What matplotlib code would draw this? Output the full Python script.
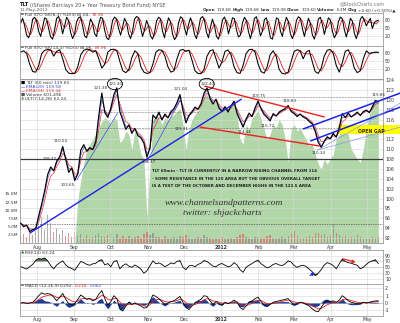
import numpy as np
import pandas as pd
import matplotlib
matplotlib.use("Agg")
import matplotlib.pyplot as plt
import matplotlib.dates as mdates
from matplotlib.patches import Ellipse, Rectangle

# ---------------- data ----------------
first_bar = "2011-07-18 10:00"
last_bar = "2012-05-10 15:00"

price = [95.0, 94.3, 94.6, 93.3, 93.7, 93.9, 96.5, 98.9, 101.6, 104.9,
         106.4, 105.6, 107.6, 108.47, 110.54, 107.9, 105.3, 106.2, 103.65, 105.0,
         109.8, 110.9, 109.6, 110.3, 109.9, 111.6, 116.8, 121.38, 117.4, 116.4,
         118.3, 121.0, 122.40, 117.6, 115.8, 114.0, 114.9, 113.2, 114.2, 112.7,
         112.3, 111.2, 108.37, 110.2, 116.9, 116.2, 117.5, 115.9, 117.1, 116.3,
         117.6, 118.2, 119.4, 121.04, 117.8, 115.31, 116.8, 117.6, 118.5, 118.1,
         119.2, 121.3, 122.40, 120.2, 119.1, 120.1, 118.3, 117.6, 118.6, 117.5,
         118.8, 119.7, 117.2, 115.8, 114.44, 116.1, 117.3, 116.6, 118.4, 119.75,
         118.1, 117.0, 116.4, 115.72, 117.2, 116.7, 117.5, 117.9, 118.2, 118.83,
         117.6, 117.2, 116.6, 117.1, 116.5, 116.2, 115.6, 115.1, 113.6, 111.4,
         110.34, 111.6, 112.5, 112.1, 113.2, 112.4, 114.4, 117.2, 116.4, 117.3,
         116.5, 117.0, 117.5, 116.8, 117.6, 117.9, 117.4, 118.6, 119.86, 119.60]

volume_m = [2.0, 2.6, 1.8, 3.1, 2.4, 3.6, 5.2, 7.8, 4.1, 8.6,
            6.2, 3.4, 4.6, 2.8, 3.9, 2.2, 2.9, 1.9, 3.3, 2.1,
            2.7, 1.6, 2.3, 1.4, 1.9, 2.5, 3.0, 2.2, 1.7, 2.4,
            3.2, 1.8, 2.6, 1.5, 2.0, 1.6, 2.2, 1.4, 1.8, 2.1,
            1.5, 2.7, 3.4, 2.3, 2.9, 1.7, 1.9, 1.3, 2.1, 1.6,
            1.4, 1.8, 1.5, 2.0, 1.7, 2.4, 1.6, 1.3, 1.5, 1.9,
            1.4, 2.3, 1.8, 1.6, 1.2, 1.5, 1.3, 1.7, 1.1, 1.4,
            1.6, 1.2, 1.9, 2.4, 2.8, 1.8, 1.5, 1.3, 1.7, 1.9,
            1.4, 1.6, 2.0, 2.3, 1.5, 1.2, 1.4, 1.7, 1.5, 2.1,
            2.6, 3.8, 2.0, 1.6, 1.4, 1.8, 2.2, 1.9, 2.9, 3.1,
            2.4, 2.8, 1.9, 2.2, 5.8, 3.0, 2.4, 1.8, 2.1, 1.6,
            1.9, 1.5, 2.4, 1.7, 1.3, 1.6, 1.4, 1.9, 1.5, 1.7]

ult = [0, 0, 0, 0, 0, 0, 0, 0, 0, 0,
       0, 0, 0, 0, 0, 0, 0, 0, 0, 26,
       38, 48, 57, 60, 63, 66, 70, 74, 76, 75,
       72, 76, 75, 61, 63, 68, 66, 57, 68, 63,
       54, 51, 16, 45, 75, 78, 76, 72, 76, 75,
       77, 78, 80, 82, 72, 57, 69, 75, 78, 81,
       84, 88, 90, 87, 84, 87, 82, 81, 84, 80,
       84, 87, 78, 63, 60, 72, 69, 76, 78, 81,
       75, 69, 63, 66, 72, 70, 75, 72, 63, 49,
       69, 72, 68, 70, 66, 63, 59, 60, 54, 48,
       45, 51, 48, 51, 54, 63, 66, 69, 72, 66,
       57, 54, 51, 49, 57, 69, 78, 84, 87, 87]

sto_fast_k = [70, 88, 60, 25, 15, 40, 85, 92, 78, 40, 20, 55, 90, 85, 50,
              18, 10, 45, 88, 95, 70, 30, 60, 92, 80, 35, 12, 30, 75, 90,
              94, 60, 22, 15, 50, 86, 70, 30, 20, 65, 92, 88, 45, 15, 8,
              35, 80, 93, 85, 50, 25, 55, 88, 72, 30, 12, 40, 85, 95, 90,
              55, 20, 45, 80, 60, 22, 10, 35, 78, 92, 86, 40, 15, 60, 90,
              75, 30, 8, 20, 70, 94, 88, 52, 25, 65, 90, 68, 28, 12, 48,
              88, 95, 80, 35, 15, 55, 85, 60, 20, 10, 40, 82, 93, 70, 30,
              58, 90, 86, 45, 18, 25, 70, 92, 80, 38, 12, 45, 88, 94, 62,
              22, 40, 84, 90, 55, 15, 10, 50, 90, 85, 40, 20, 65, 92, 75,
              30, 12, 35, 80, 94, 88, 50, 20, 55, 88, 70, 25, 10, 42, 85,
              92, 65, 28, 60, 90, 82, 40, 15, 30, 75, 93, 86, 45, 18, 50,
              88, 78, 32, 12, 40, 85, 95, 80, 60, 75, 88, 50, 72.0, 77.66, 81.04]

sto_slow_k = [85, 90, 80, 40, 12, 10, 35, 80, 92, 95,
              93, 70, 88, 94, 60, 20, 6, 4, 5, 30,
              75, 92, 96, 94, 85, 90, 60, 25, 40, 85,
              95, 96, 90, 50, 15, 8, 20, 65, 90, 80,
              30, 10, 5, 8, 40, 85, 94, 92, 70, 30,
              10, 15, 60, 92, 95, 88, 92, 55, 15, 5,
              4, 20, 70, 90, 94, 60, 25, 50, 88, 93,
              75, 30, 8, 5, 35, 80, 94, 96, 85, 40,
              12, 6, 30, 75, 90, 70, 20, 5, 3, 10,
              50, 88, 94, 90, 60, 85, 92, 50, 12, 5,
              25, 70, 92, 95, 80, 35, 10, 45, 88, 94,
              70, 25, 8, 15, 60, 90, 80, 82.5, 85.32, 84.06]

rsi = [53, 48, 44, 52, 60, 74, 80, 78, 82, 72,
       56, 45, 58, 66, 72, 58, 50, 46, 40, 55,
       70, 66, 60, 57, 62, 64, 72, 76, 58, 63,
       52, 70, 73, 45, 56, 62, 54, 50, 58, 52,
       44, 30, 38, 55, 72, 62, 65, 60, 52, 58,
       65, 62, 70, 73, 50, 42, 55, 57, 52, 60,
       64, 73, 70, 62, 54, 52, 60, 63, 57, 52,
       55, 66, 58, 42, 33, 50, 57, 63, 70, 74,
       62, 55, 48, 52, 60, 63, 58, 56, 62, 72,
       68, 56, 50, 55, 57, 53, 44, 35, 22, 30,
       42, 58, 66, 62, 56, 45, 62, 78, 70, 66,
       64, 60, 57, 45, 50, 60, 68, 72, 76, 63.24]

macd = [0.0, 0.05, -0.05, 0.0, 0.1, 0.5, 1.0, 1.4, 1.2, 1.3,
        1.2, 0.8, 0.3, 0.8, 1.3, 0.5, -0.1, -0.2, -0.1, 0.5,
        1.1, 0.8, 0.5, 0.6, 0.3, 0.5, 1.2, 1.7, 0.6, -0.3,
        0.2, 1.0, 0.6, -0.8, -1.1, -0.4, 0.1, -0.2, 0.0, -0.2,
        -0.4, -0.7, -0.6, 0.2, 1.1, 0.9, 0.6, 0.2, -0.2, 0.0,
        0.2, 0.3, 0.6, 0.9, 0.1, -0.6, -0.9, -0.4, 0.0, 0.3,
        0.5, 1.0, 0.9, 0.3, -0.2, 0.2, -0.1, -0.3, 0.1, -0.1,
        0.1, 0.4, 0.1, -0.6, -0.9, -0.4, 0.1, 0.3, 0.6, 0.8,
        0.2, -0.3, -0.5, -0.2, 0.1, 0.2, 0.3, 0.4, 0.5, 0.6,
        0.1, -0.2, -0.1, 0.1, 0.0, -0.2, -0.4, -0.8, -1.1, -1.2,
        -0.6, 0.0, 0.3, 0.2, 0.3, 0.1, 0.4, 1.0, 0.7, 0.3,
        0.1, 0.0, -0.1, -0.1, 0.1, 0.0, 0.1, 0.22, 0.28, 0.292]

month_starts = ["2011-08-01", "2011-09-01", "2011-10-01", "2011-11-01", "2011-12-01",
                "2012-01-01", "2012-02-01", "2012-03-01", "2012-04-01", "2012-05-01"]
month_labels = ["Aug", "Sep", "Oct", "Nov", "Dec", "2012", "Feb", "Mar", "Apr", "May"]

# labelled turning points: (bar index, dx px, dy px)
point_labels = [(13, -10, -2), (14, -2, 5.5), (18, -7, -4.5), (27, -1, 5), (32, -1, 4),
                (42, 2, -5), (53, 1, 6), (55, -4, -6), (62, 1, 4), (74, 1, -5),
                (79, 1, 4.5), (83, -2, -5), (89, 1, 4.5), (100, -3, -6), (118, 3, 5)]

# hand-drawn study lines: (start date, start price, end date, end price, colour, width)
trend_lines = [
    ("2011-07-26", 93.0, "2012-01-18", 120.15, "#1b22e6", 1.0),
    ("2011-09-03", 103.75, "2011-10-07", 117.3, "#3b4cf0", 0.5),
    ("2011-10-31", 107.4, "2011-11-29", 120.35, "#3b4cf0", 0.5),
    ("2011-12-18", 122.78, "2012-03-27", 116.5, "#ee1f1f", 1.0),
    ("2011-12-14", 114.48, "2012-03-23", 110.63, "#ee1f1f", 1.0),
    ("2012-03-09", 114.07, "2012-05-29", 121.36, "#1b22e6", 1.1),
    ("2012-03-15", 111.64, "2012-05-29", 118.53, "#1b22e6", 1.1),
    ("2012-03-21", 109.8, "2012-05-29", 119.34, "#8a98ee", 0.5),
    ("2012-03-21", 109.8, "2012-05-29", 114.48, "#8a98ee", 0.5),
]
dotted_levels = [(120.65, "2011-09-22", "2012-05-14"),
                 (117.5, "2011-09-22", "2011-12-14"),
                 (114.3, "2011-09-22", "2012-04-09")]
support_level = 108.0
volume_guide = 94.84
gap_zone = ("2012-04-07", "2012-05-29", 113.15, 114.9)
circled = [("2011-10-04 18:00", 123.18), ("2011-12-20", 123.18)]

# ---------------- layout helpers ----------------
W, H = 400, 323
fig = plt.figure(figsize=(W / 100, H / 100), dpi=100)
fig.patch.set_facecolor("white")
renderer = fig.canvas.get_renderer()

GRID = "#d6d6d6"
EDGE = "#9a9a9a"
TXT = "#333333"


def fx(px):
    return px / W


def fy(py):
    return 1 - py / H


def panel(top, bottom, left=20, right=383):
    return fig.add_axes([fx(left), fy(bottom), (right - left) / W, (bottom - top) / H])


def text_runs(x, y, pieces, size, align="left", gap=1.0, family=None):
    items = []
    for s, color, weight in pieces:
        kw = {} if family is None else {"family": family}
        t = fig.text(0, fy(y), s, fontsize=size, color=color, fontweight=weight,
                     va="center", ha="left", **kw)
        items.append((t, t.get_window_extent(renderer=renderer).width))
    total = sum(w for _, w in items) + gap * (len(items) - 1)
    cur = x - total if align == "right" else x
    for t, w in items:
        t.set_x(fx(cur))
        cur += w + gap


def d2n(s):
    return mdates.date2num(pd.Timestamp(s))


aug1 = pd.Timestamp("2011-08-01")
x_left = mdates.date2num(aug1 - pd.Timedelta(days=14.13))
x_right = mdates.date2num(aug1 + pd.Timedelta(days=287.5))
month_x = [d2n(m) for m in month_starts]

x_bars = mdates.date2num(pd.date_range(first_bar, last_bar, periods=len(price)))
x_fast = mdates.date2num(pd.date_range(first_bar, last_bar, periods=len(sto_fast_k)))
x_slow = mdates.date2num(pd.date_range(first_bar, last_bar, periods=len(sto_slow_k)))

bars_per_sample = 7 * np.busday_count("2011-07-18", "2012-05-10") / (len(price) - 1)
ps = pd.Series(price)
ema20 = ps.ewm(span=max(1.0, 20 / bars_per_sample), adjust=False).mean()
ema34 = ps.ewm(span=max(1.0, 34 / bars_per_sample), adjust=False).mean()
fast_d = pd.Series(sto_fast_k).rolling(3).mean()
slow_d = pd.Series(sto_slow_k).rolling(3).mean()
macd_s = pd.Series(macd)
signal = macd_s.ewm(span=5, adjust=False).mean()
hist = macd_s - signal


def style(ax, yticks, ylim, labels=None, xlabels=False):
    ax.set_xlim(x_left, x_right)
    ax.set_ylim(*ylim)
    ax.set_xticks(month_x)
    ax.set_yticks(yticks)
    ax.yaxis.tick_right()
    if labels is not None:
        ax.set_yticklabels(labels)
    ax.tick_params(axis="y", length=0, pad=1.5, labelsize=3.3, labelcolor=TXT)
    ax.tick_params(axis="x", length=0, pad=1.2, labelsize=3.3, labelcolor=TXT)
    if xlabels:
        ax.set_xticklabels(month_labels)
        for t in ax.get_xticklabels():
            if t.get_text() == "2012":
                t.set_fontweight("bold")
    else:
        ax.set_xticklabels([])
    ax.grid(True, color=GRID, lw=0.4)
    ax.set_axisbelow(True)
    for sp in ax.spines.values():
        sp.set_color(EDGE)
        sp.set_linewidth(0.6)


# ---------------- stochastic panels ----------------
for (top, bot, xs, k, d) in [(12.5, 45.5, x_fast, sto_fast_k, fast_d),
                              (45.5, 78.5, x_slow, sto_slow_k, slow_d)]:
    ax = panel(top, bot)
    style(ax, [20, 50, 80], (-14, 110))
    for lv in (10, 30, 40, 60, 70, 90):
        ax.axhline(lv, color="#ececec", lw=0.3, zorder=0)
    ax.plot(xs, d, color="#e02020", lw=0.6)
    ax.plot(xs, k, color="black", lw=0.75)

text_runs(21, 14.6, [("═ Full STO %K(8,3) %D(3)", TXT, "normal"),
                     (f"{sto_fast_k[-1]:.2f},", TXT, "normal"),
                     (f"{fast_d.iloc[-1]:.2f}", "#e02020", "normal")], 3.2)
text_runs(21, 47.6, [("═ Full STO %K(14,3) %D(3)", TXT, "normal"),
                     (f"{sto_slow_k[-1]:.2f},", TXT, "normal"),
                     (f"{slow_d.iloc[-1]:.2f}", "#e02020", "normal")], 3.2)

# ---------------- price panel ----------------
P_TOP, P_BOT = 78.5, 243
price_lim = (91.0, 124.3)

ax_ult = panel(P_TOP, P_BOT)
ax_ult.set_xlim(x_left, x_right)
ax_ult.set_ylim(0, 100)
ax_ult.fill_between(x_bars, 0, ult, color="#b1d6a7", lw=0)
ax_ult.axis("off")
ax_ult.set_zorder(1)

ax_vol = panel(P_TOP, P_BOT)
ax_vol.set_xlim(x_left, x_right)
ax_vol.set_ylim(0, 50.2)
vol_colors = ["#8a8a8a"] + ["#e06464" if price[i] < price[i - 1] else "#8a8a8a"
                            for i in range(1, len(price))]
ax_vol.bar(x_bars, volume_m, width=1.1, color=vol_colors, alpha=0.7, lw=0)
ax_vol.set_yticks([2.5, 5, 7.5, 10, 12.5, 15])
ax_vol.set_yticklabels(["2.5M", "5.0M", "7.5M", "10.0M", "12.5M", "15.0M"])
ax_vol.tick_params(axis="y", length=0, pad=1.5, labelsize=3.1, labelcolor=TXT)
ax_vol.set_xticks([])
ax_vol.patch.set_visible(False)
for sp in ax_vol.spines.values():
    sp.set_visible(False)
ax_vol.set_zorder(2)

ax = panel(P_TOP, P_BOT)
ax.set_zorder(3)
ax.patch.set_visible(False)
style(ax, np.arange(92, 125, 2), price_lim, xlabels=True)

ax.axhline(support_level, color="#3a3a3a", lw=0.9, zorder=2)
ax.axhline(volume_guide, color="#555555", lw=0.5, ls=(0, (2, 1.5)), zorder=2)
for lv, a, b in dotted_levels:
    ax.plot([d2n(a), d2n(b)], [lv, lv], color="#555555", lw=0.5, ls=(0, (1, 1.2)), zorder=2)

g0, g1, glo, ghi = gap_zone
ax.add_patch(Rectangle((d2n(g0), glo), d2n(g1) - d2n(g0), ghi - glo, facecolor="#ffff00",
                       edgecolor="none", clip_on=False, zorder=1.5))
ax.text(d2n("2012-05-04 12:00"), 113.55, "OPEN GAP", fontsize=3.3, fontweight="bold",
        color="#3a2a00", ha="center", va="center", zorder=6)

ax.plot(x_bars, ema34, color="#e83030", lw=0.5, zorder=3)
ax.plot(x_bars, ema20, color="#3347e0", lw=0.4, zorder=3)
ax.plot(x_bars, price, color="black", lw=0.85, zorder=4)

for (a, pa, b, pb, col, lw) in trend_lines:
    ax.plot([d2n(a), d2n(b)], [pa, pb], color=col, lw=lw, clip_on=False, zorder=5,
            solid_capstyle="butt")

for i, dx, dy in point_labels:
    ax.annotate(f"{price[i]:.2f}", xy=(x_bars[i], price[i]), xytext=(dx * 0.72, dy * 0.72),
                textcoords="offset points", fontsize=3.0, color=TXT, ha="center",
                va="center", zorder=6)

for c, p in circled:
    ax.add_patch(Ellipse((d2n(c), p), 12.5, 2.3, fill=False, edgecolor="black",
                         lw=0.6, clip_on=False, zorder=6))

# legend of the price panel
text_runs(21, 83, [("■", "black", "normal"), (f"TLT (60 min) {price[-1]:.2f}", TXT, "normal")], 3.2)
text_runs(21, 87, [("—", "#3347e0", "bold"), (f"EMA(20) {ema20.iloc[-1]:.2f}", "#3347e0", "normal")], 3.2)
text_runs(21, 91, [("—", "#e83030", "bold"), (f"EMA(34) {ema34.iloc[-1]:.2f}", "#e83030", "normal")], 3.2)
text_runs(21, 94.8, [("■", "#555555", "normal"), ("Volume 601,496", TXT, "normal")], 3.2)
text_runs(21, 98.6, [("▲", "#6a9a60", "normal"), ("ULT(7,14,28) 62.24", TXT, "normal")], 3.2)

# commentary
notes = ["TLT 60min - TLT IS CURRENTLY IN A NARROW RISING CHANNEL FROM 114",
         "- SOME RESISTANCE IN THE 120 AREA BUT THE OBVIOUS OVERALL TARGET",
         "IS A TEST OF THE OCTOBER AND DECEMBER HIGHS IN THE 122.5 AREA"]
for j, line in enumerate(notes):
    fig.text(fx(152), fy(171.5 + 7.2 * j), line, fontsize=2.85, fontweight="bold",
             color="#222222", va="center", ha="left", zorder=10)
fig.text(fx(165), fy(203), "www.channelsandpatterns.com", fontsize=6.8, style="italic",
         family=["Liberation Serif", "DejaVu Serif"], color="#333333", va="center", zorder=10)
fig.text(fx(183), fy(213), "twitter: shjackcharts", fontsize=6.8, style="italic",
         family=["Liberation Serif", "DejaVu Serif"], color="#333333", va="center", zorder=10)

# ---------------- RSI panel ----------------
ax_r = panel(250, 283.5)
style(ax_r, [10, 30, 50, 70, 90], (-5, 109))
ax_r.axhline(50, color="#888888", lw=0.4, ls=(0, (1, 1)))
r = np.array(rsi, dtype=float)
ax_r.fill_between(x_bars, 70, r, where=r > 70, interpolate=True, color="#4f6f4f", lw=0)
ax_r.fill_between(x_bars, 30, r, where=r < 30, interpolate=True, color="#8a5a3a", lw=0)
ax_r.plot(x_bars, r, color="black", lw=0.6)
ax_r.annotate("", xy=(d2n("2012-03-21"), 37.4), xytext=(d2n("2012-03-13"), 17),
              arrowprops=dict(arrowstyle="-|>", color="#1b22e6", lw=0.9, mutation_scale=4))
ax_r.annotate("", xy=(d2n("2012-04-24"), 64.6), xytext=(d2n("2012-04-09"), 81.6),
              arrowprops=dict(arrowstyle="-|>", color="#ee1f1f", lw=0.9, mutation_scale=4))
text_runs(21, 252.6, [("▲", "#4f6f4f", "normal"), (f"RSI(14) {rsi[-1]:.2f}", TXT, "normal")], 3.2)

# ---------------- MACD panel ----------------
ax_m = panel(283.5, 315.5)
style(ax_m, [-1, 0, 1, 2], (-1.71, 2.67), labels=["-1", "0", "1", "2"], xlabels=True)
ax_m.axhline(0, color="#888888", lw=0.4, ls=(0, (1, 1)))
ax_m.fill_between(x_bars, 0, hist, color="#1f3c96", lw=0)
ax_m.plot(x_bars, signal, color="#e02020", lw=0.6)
ax_m.plot(x_bars, macd, color="black", lw=0.6)
text_runs(21, 285.8, [("═ MACD (12,26,9)", TXT, "normal"), (f"{macd[-1]:.3f},", TXT, "normal"),
                      (f"{signal.iloc[-1]:.3f},", "#e02020", "normal"),
                      (f"{hist.iloc[-1]:.3f}", "#3b5bd0", "normal")], 3.2)

# ---------------- header ----------------
text_runs(20, 5, [("TLT", "#111111", "bold"),
                  ("(iShares Barclays 20+ Year Treasury Bond Fund) NYSE", "#555555", "normal")], 3.6)
fig.text(fx(20), fy(10.2), "11-May-2012", fontsize=3.2, color="#555555", va="center")
fig.text(fx(385), fy(3.6), "@StockCharts.com", fontsize=3.4, color="#777777", va="center", ha="right")
text_runs(396, 10.3, [("Open", TXT, "bold"), ("119.68", TXT, "normal"),
                      ("High", TXT, "bold"), ("119.68", TXT, "normal"),
                      ("Low", TXT, "bold"), ("119.08", TXT, "normal"),
                      ("Close", TXT, "bold"), (f"{price[-1]:.2f}", TXT, "normal"),
                      ("Volume", TXT, "bold"), ("6.2M", TXT, "normal"),
                      ("Chg", TXT, "bold"), ("+0.60 (+0.50%)▲", TXT, "normal")], 3.1,
          align="right", gap=1.2)

fig.savefig("out.png", dpi=100)
